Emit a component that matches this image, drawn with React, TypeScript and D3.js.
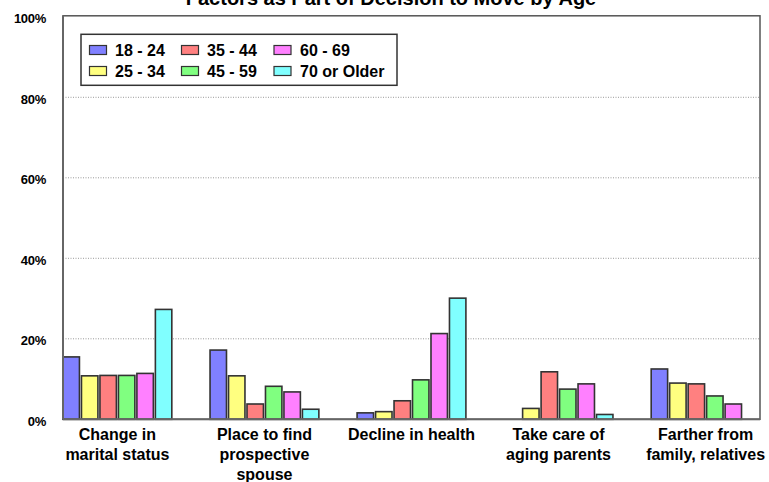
import React from "react";
import * as d3 from "d3";

const categories = [
  ["Change in", "marital status"],
  ["Place to find", "prospective", "spouse"],
  ["Decline in health"],
  ["Take care of", "aging parents"],
  ["Farther from", "family, relatives"],
];
const seriesNames = ["18 - 24", "25 - 34", "35 - 44", "45 - 59", "60 - 69", "70 or Older"];
const seriesColors = ["#8080FF", "#FFFF80", "#FF8080", "#80FF80", "#FF80FF", "#80FFFF"];
const s1824 = [15.5, 17.2, 1.6, 0, 12.5];
const s2534 = [10.8, 10.8, 1.9, 2.7, 9.0];
const s3544 = [10.9, 3.8, 4.6, 11.8, 8.8];
const s4559 = [10.9, 8.2, 9.8, 7.5, 5.8];
const s6069 = [11.4, 6.8, 21.3, 8.8, 3.8];
const s70 = [27.3, 2.5, 30.1, 1.2, 0];
const yTicks = [0, 20, 40, 60, 80, 100];
const title = "Factors as Part of Decision to Move by Age";

const seriesValues = [s1824, s2534, s3544, s4559, s6069, s70];

export default function App() {
  const W = 769, H = 482;
  const left = 63, right = 760, top = 16.8, bottom = 419.3;
  const catKeys = categories.map((c, i) => String(i));
  const x0 = d3.scaleBand().domain(catKeys).range([left, right]).paddingInner(0.26).paddingOuter(0);
  const x1 = d3.scaleBand().domain(seriesNames).range([0, x0.bandwidth()]).paddingInner(0.11).paddingOuter(0);
  const y = d3.scaleLinear().domain([0, 100]).range([bottom, top]);
  const font = "Liberation Sans, Arial, sans-serif";

  const legendCols = [
    { x: 89.5, tx: 115 },
    { x: 181.5, tx: 207 },
    { x: 274, tx: 300 },
  ];
  const legendRows = [50, 71];

  return (
    <svg width={W} height={H} style={{ position: "absolute", left: 0, top: 0 }} fontFamily={font}>
      <rect x={0} y={0} width={W} height={H} fill="#fff" />
      <text x={391} y={4.5} textAnchor="middle" fontSize={20} fontWeight="bold" fill="#000">{title}</text>
      {yTicks.filter((t) => t > 0 && t < 100).map((t) => (
        <line key={t} x1={left} x2={right} y1={y(t)} y2={y(t)} stroke="#999" strokeWidth={1} strokeDasharray="1,1.5" />
      ))}
      {yTicks.map((t) => (
        <text key={t} x={46} y={y(t) + 2} dy="0.35em" textAnchor="end" fontSize={13} fontWeight="bold" letterSpacing={-0.3} fill="#000">{t}%</text>
      ))}
      {seriesValues.map((vals, si) =>
        vals.map((v, ci) =>
          v > 0 ? (
            <rect
              key={si + "-" + ci}
              x={(x0(String(ci)) as number) + (x1(seriesNames[si]) as number)}
              y={y(v)}
              width={x1.bandwidth()}
              height={bottom - y(v)}
              fill={seriesColors[si]}
              stroke="#333"
              strokeWidth={1.6}
            />
          ) : null
        )
      )}
      <rect x={left} y={top - 1} width={right - left} height={bottom - top + 1} fill="none" stroke="#555" strokeWidth={1.5} />
      <line x1={left} x2={left} y1={top - 1} y2={bottom} stroke="#666" strokeWidth={2} />
      <line x1={left} x2={right} y1={bottom} y2={bottom} stroke="#666" strokeWidth={2} />
      {categories.map((lines, ci) => (
        <text key={ci} x={(x0(String(ci)) as number) + x0.bandwidth() / 2} y={440} textAnchor="middle" fontSize={16} fontWeight="bold" fill="#000">
          {lines.map((l, li) => (
            <tspan key={li} x={(x0(String(ci)) as number) + x0.bandwidth() / 2} dy={li === 0 ? 0 : 20}>{l}</tspan>
          ))}
        </text>
      ))}
      <rect x={81} y={34.3} width={316} height={51} fill="#fff" stroke="#333" strokeWidth={1.5} />
      {seriesNames.map((n, i) => {
        const col = legendCols[Math.floor(i / 2)];
        const row = legendRows[i % 2];
        return (
          <g key={n}>
            <rect x={col.x} y={row - 4.5} width={17} height={9} fill={seriesColors[i]} stroke="#333" strokeWidth={1.2} />
            <text x={col.tx} y={row} dy="0.36em" fontSize={16} fontWeight="bold" fill="#000">{n}</text>
          </g>
        );
      })}
    </svg>
  );
}
